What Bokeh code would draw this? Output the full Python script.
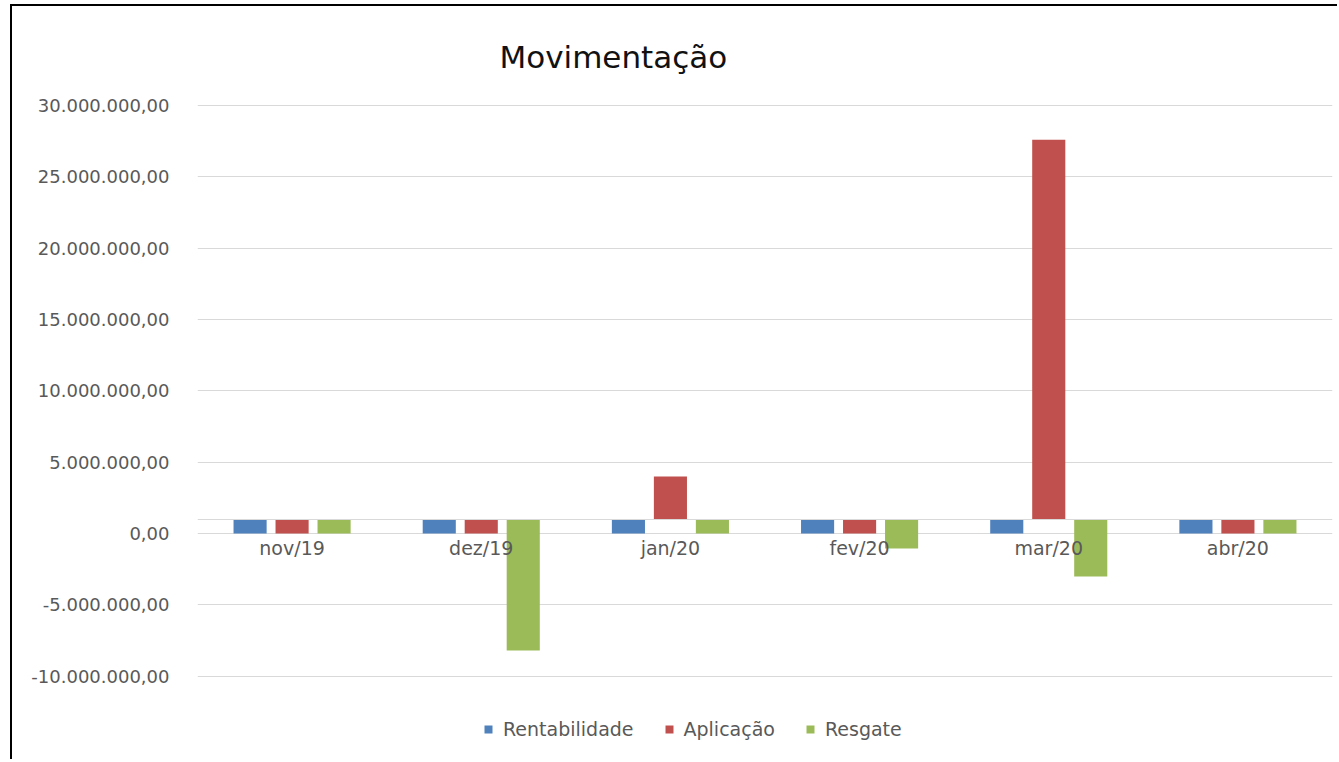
from bokeh.plotting import figure
from bokeh.models import (ColumnDataSource, FactorRange, Range1d, SingleIntervalTicker,
                          CustomJSTickFormatter, Legend, LegendItem)
from bokeh.transform import dodge
from bokeh.embed import file_html
from bokeh.resources import INLINE

# ---- data ----
categories = ["nov/19", "dez/19", "jan/20", "fev/20", "mar/20", "abr/20"]
rentabilidade = [0, 0, 0, 0, 0, 0]
aplicacao = [0, 0, 4_000_000, 0, 27_600_000, 0]
resgate = [0, -8_200_000, 0, -1_050_000, -3_000_000, 0]
series_names = ["Rentabilidade", "Aplicação", "Resgate"]

# ---- style ----
colors = ["#4F81BD", "#C0504D", "#9BBB59"]
AXIS_CROSS = 1_000_000   # horizontal axis crosses the value axis at this value
FONT = "DejaVu Sans"
TXT = "#595959"

source = ColumnDataSource(dict(cat=categories, rent=rentabilidade, apl=aplicacao, res=resgate))

p = figure(x_range=FactorRange(factors=categories), y_range=Range1d(-14_850_000, 30_070_000),
           width=1327, height=755, output_backend="svg", toolbar_location=None,
           min_border_left=185, min_border_right=7, min_border_top=98, min_border_bottom=16)
p.styles = {"border-left": "2px solid #000", "border-top": "2px solid #000",
            "margin-left": "10px", "margin-top": "4px"}
p.outline_line_color = None
p.background_fill_color = "white"
p.border_fill_color = "white"

# title
p.title.text = "Movimentação"
p.title.text_font = FONT
p.title.text_font_size = "31px"
p.title.text_font_style = "normal"
p.title.text_line_height = 1.0
p.title.text_color = "#111111"
p.title.align = "left"
p.title.offset = 302
p.title.standoff = 60

# y axis
p.yaxis.ticker = SingleIntervalTicker(interval=5_000_000)
p.yaxis.formatter = CustomJSTickFormatter(code="""
const s = Math.abs(tick).toFixed(2).split('.');
const i = s[0].replace(/\\B(?=(\\d{3})+(?!\\d))/g, '.');
return (tick < 0 ? '-' : '') + i + ',' + s[1];
""")
p.yaxis.axis_line_color = None
p.yaxis.major_tick_line_color = None
p.yaxis.minor_tick_line_color = None
p.yaxis.major_tick_out = 0
p.yaxis.major_label_standoff = 24
p.yaxis.major_label_text_font = FONT
p.yaxis.major_label_text_font_size = "18px"
p.yaxis.major_label_text_color = TXT

p.ygrid.grid_line_color = "#d9d9d9"
p.ygrid.grid_line_width = 1
p.xgrid.grid_line_color = None

# x axis at the crossing value
p.xaxis.fixed_location = AXIS_CROSS
p.xaxis.axis_line_color = "#d9d9d9"
p.xaxis.major_tick_line_color = None
p.xaxis.minor_tick_line_color = None
p.xaxis.major_tick_out = 0
p.xaxis.major_label_standoff = 18
p.xaxis.major_label_text_font = FONT
p.xaxis.major_label_text_font_size = "19px"
p.xaxis.major_label_text_color = TXT

cols = ["rent", "apl", "res"]
offsets = [-0.222, 0.0, 0.222]
renderers = []
for col, off, c in zip(cols, offsets, colors):
    r = p.vbar(x=dodge("cat", off, range=p.x_range), top=col, bottom=AXIS_CROSS,
               width=0.175, source=source, fill_color=c, line_color=None)
    renderers.append(r)

legend = Legend(items=[LegendItem(label=n, renderers=[r]) for n, r in zip(series_names, renderers)],
                orientation="horizontal", location=(286, 5),
                border_line_color=None, background_fill_alpha=0,
                label_text_font=FONT, label_text_font_size="19px", label_text_color=TXT,
                glyph_width=10, glyph_height=10, label_standoff=10, spacing=30,
                padding=0, margin=0)
p.add_layout(legend, "center")

open("out.html", "w").write(file_html(p, INLINE))
